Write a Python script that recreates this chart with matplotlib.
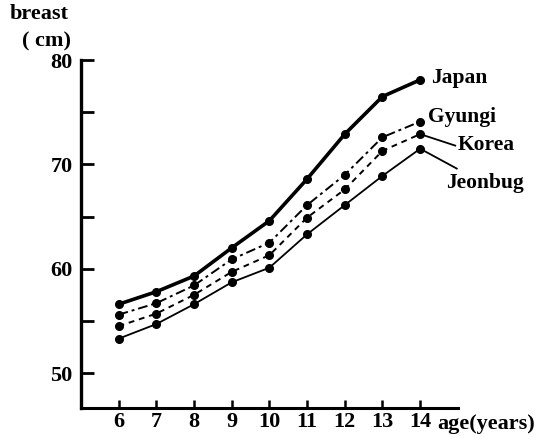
import matplotlib
matplotlib.use("Agg")
import matplotlib.pyplot as plt
import matplotlib.transforms as mtransforms

# --- data (breast girth, cm) ---
ages = [6, 7, 8, 9, 10, 11, 12, 13, 14]
japan = [56.6, 57.8, 59.3, 62.0, 64.6, 68.6, 72.9, 76.5, 78.1]
gyungi = [55.6, 56.7, 58.4, 60.9, 62.5, 66.1, 69.0, 72.6, 74.1]
korea = [54.5, 55.7, 57.5, 59.7, 61.3, 64.9, 67.6, 71.3, 72.9]
jeonbug = [53.3, 54.7, 56.6, 58.7, 60.1, 63.3, 66.1, 68.9, 71.5]
series_names = ["Japan", "Gyungi", "Korea", "Jeonbug"]
y_ticks = [50, 55, 60, 65, 70, 75, 80]
y_tick_labels = ["50", "", "60", "", "70", "", "80"]

plt.rcParams["font.family"] = ["Liberation Serif", "DejaVu Serif"]
plt.rcParams["font.weight"] = "bold"

fig = plt.figure(figsize=(5.56, 4.38), dpi=100)
ax = fig.add_axes([0.1455, 0.0685, 0.678, 0.7945])

ax.plot(ages, japan, color="black", lw=2.6, marker="o", ms=5.5)
ax.plot(ages, gyungi, color="black", lw=1.4, marker="o", ms=5.5,
        dashes=(5, 2, 1.5, 2))
ax.plot(ages, korea, color="black", lw=1.4, marker="o", ms=5.5,
        dashes=(3, 2.5))
ax.plot(ages, jeonbug, color="black", lw=1.3, marker="o", ms=5.5)

ax.set_xlim(5, 15)
ax.set_ylim(46.66, 80)

for s in ["top", "right"]:
    ax.spines[s].set_visible(False)
ax.spines["left"].set_linewidth(2.4)
ax.spines["bottom"].set_linewidth(2.2)

ax.set_xticks(ages)
ax.set_xticklabels([str(a) for a in ages])
ax.set_yticks(y_ticks)
ax.set_yticklabels(y_tick_labels)
ax.tick_params(axis="y", direction="in", length=9, width=2, pad=6,
               labelsize=16)
ax.tick_params(axis="x", direction="in", length=6, width=1.8, pad=3,
               labelsize=16)

# series labels at the right end
fs = 15.5
ax.text(14.3, japan[-1] + 0.15, series_names[0], fontsize=fs, va="center", ha="left")
ax.text(14.22, gyungi[-1] + 0.45, series_names[1], fontsize=fs, va="center", ha="left")
ax.text(15.0, korea[-1] - 1.0, series_names[2], fontsize=fs, va="center", ha="left")
ax.text(14.7, jeonbug[-1] - 3.3, series_names[3], fontsize=fs, va="center", ha="left")
# leader lines
ax.plot([14, 14.93], [korea[-1], korea[-1] - 1.1], color="black", lw=1.3)
ax.plot([14, 14.97], [jeonbug[-1], jeonbug[-1] - 1.9], color="black", lw=1.3)

# axis titles
trans = mtransforms.blended_transform_factory(ax.transData, ax.transAxes)
ax.text(14.45, -0.016, "age(years)", transform=trans, fontsize=16,
        ha="left", va="top")
fig.text(0.018, 0.968, "breast", fontsize=16, ha="left", va="center")
fig.text(0.040, 0.906, "( cm)", fontsize=16, ha="left", va="center")

fig.savefig("out.png", dpi=100)
